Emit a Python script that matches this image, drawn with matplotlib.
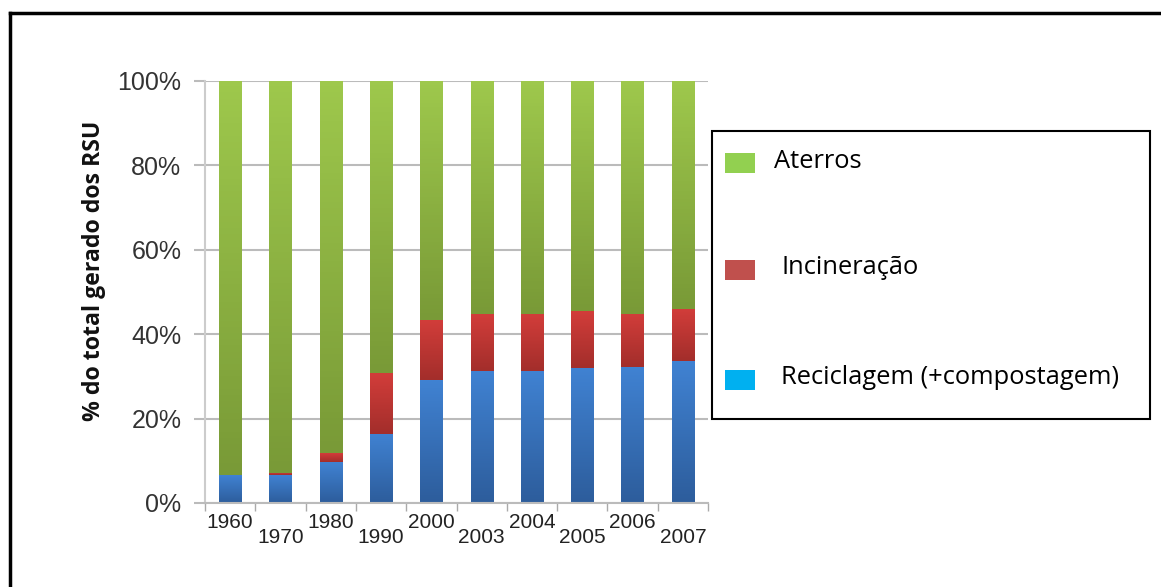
import numpy as np
import matplotlib.pyplot as plt
from matplotlib.colors import LinearSegmentedColormap
from matplotlib.patches import Rectangle

# data (% of total MSW generated)
years = ["1960", "1970", "1980", "1990", "2000", "2003", "2004", "2005", "2006", "2007"]
reciclagem = [6.6, 6.6, 9.7, 16.4, 29.1, 31.3, 31.3, 32.0, 32.2, 33.6]
incineracao = [0.0, 0.5, 2.1, 14.4, 14.3, 13.5, 13.5, 13.5, 12.6, 12.4]
aterros = [100 - r - i for r, i in zip(reciclagem, incineracao)]

legend_labels = ["Aterros", "Incineração", "Reciclagem (+compostagem)"]
legend_colors = ["#92D050", "#C0504D", "#00B0F0"]

# gradient (top colour, bottom colour) for each series
grad_blue = ("#4082D2", "#2D5D9C")
grad_red = ("#D23D3A", "#A32E2B")
grad_green = ("#9EC84C", "#799A37")

fig = plt.figure(figsize=(11.61, 5.87), dpi=100)
ax = fig.add_axes([205 / 1161, 1 - 503 / 587, 503 / 1161, 422 / 587])

x = np.arange(len(years))
w = 0.44
b1 = ax.bar(x, reciclagem, w, color="none", edgecolor="none")
b2 = ax.bar(x, incineracao, w, bottom=reciclagem, color="none", edgecolor="none")
bot3 = [r + i for r, i in zip(reciclagem, incineracao)]
b3 = ax.bar(x, aterros, w, bottom=bot3, color="none", edgecolor="none")


def fill_gradient(bars, cols):
    cmap = LinearSegmentedColormap.from_list("g", [cols[1], cols[0]])
    grad = np.linspace(0, 1, 64).reshape(-1, 1)
    for p in bars:
        h = p.get_height()
        if h <= 0:
            continue
        x0, y0 = p.get_x(), p.get_y()
        im = ax.imshow(grad, cmap=cmap, aspect="auto", origin="lower",
                       extent=[x0, x0 + p.get_width(), y0, y0 + h], zorder=2)
        im.set_clip_path(p)


fill_gradient(b1, grad_blue)
fill_gradient(b2, grad_red)
fill_gradient(b3, grad_green)

ax.set_xlim(-0.5, len(years) - 0.5)
ax.set_ylim(0, 100)
ax.set_yticks(range(0, 101, 20))
ax.set_yticklabels([f"{v}%" for v in range(0, 101, 20)], fontsize=18,
                   color="#333333", family="Liberation Sans")
ax.yaxis.grid(True, color="#BBBBBB", linewidth=1.5)
ax.set_axisbelow(True)

# category boundaries as tick marks, labels staggered
ax.set_xticks(np.arange(-0.5, len(years), 1.0))
ax.set_xticklabels([])
ax.tick_params(axis="x", length=6, color="#AAAAAA", width=1)
ax.tick_params(axis="y", length=8, color="#BBBBBB", width=1.5, pad=9)
for i, yr in enumerate(years):
    off = -0.023 if i % 2 == 0 else -0.059
    ax.text(i, off, yr, transform=ax.get_xaxis_transform(), ha="center", va="top",
            fontsize=15, color="#222222", family="Liberation Sans")

for s in ["top", "right"]:
    ax.spines[s].set_visible(False)
ax.spines["left"].set_color("#CCCCCC")
ax.spines["left"].set_linewidth(1.5)
ax.spines["bottom"].set_color("#BBBBBB")
ax.spines["bottom"].set_linewidth(1.5)

ax.set_ylabel("% do total gerado dos RSU", fontsize=16.7, fontweight="bold",
              family="Open Sans", color="#111111")
ax.yaxis.set_label_coords((106 - 205) / 503, 0.55)

# outer frame (left and top edges visible)
fig.add_artist(plt.Line2D([9.5 / 1161, 9.5 / 1161], [0, 1 - 13 / 587],
                          color="black", linewidth=2.5))
fig.add_artist(plt.Line2D([9.5 / 1161, 1], [1 - 13 / 587, 1 - 13 / 587],
                          color="black", linewidth=2.5))

# legend box drawn as in the original (separate text box)
fig.add_artist(Rectangle((712 / 1161, 1 - 419 / 587), 438 / 1161, 288 / 587,
                         transform=fig.transFigure, fill=False,
                         edgecolor="black", linewidth=1.5))
ly = [161, 268, 378]
lx = [774, 781, 781]
for lab, col, yy, xx in zip(legend_labels, legend_colors, ly, lx):
    fig.add_artist(Rectangle((725 / 1161, 1 - (yy + 12) / 587), 30 / 1161, 20 / 587,
                             transform=fig.transFigure, facecolor=col,
                             edgecolor="none"))
    fig.text(xx / 1161, 1 - yy / 587, lab, fontsize=18.4, family="Open Sans",
             va="center", ha="left", color="black")

fig.savefig("out.png", dpi=100)
